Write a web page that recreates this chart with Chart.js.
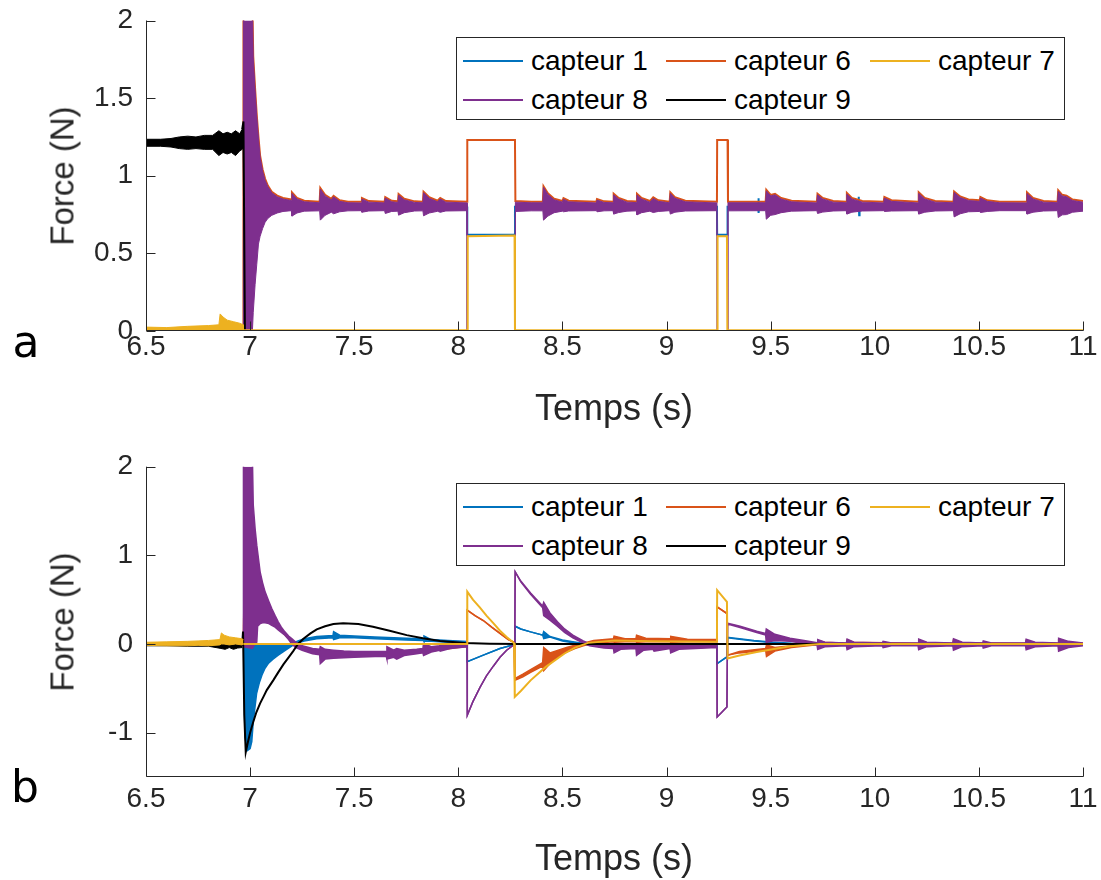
<!DOCTYPE html>
<html>
<head>
<meta charset="utf-8">
<script src="https://cdn.jsdelivr.net/npm/chart.js@4.4.1/dist/chart.umd.min.js"></script>
<style>
html,body{margin:0;padding:0;background:#fff;}
#wrap{position:relative;width:1101px;height:880px;overflow:hidden;background:#fff;font-family:"Liberation Sans",Arial,Helvetica,sans-serif;color:#262626;}
.pane{position:absolute;left:0;width:1101px;height:440px;}
.pane canvas{position:absolute;left:0;top:0;}
.t{position:absolute;white-space:nowrap;line-height:1;transform:translate(-50%,-50%);}
.leg{position:absolute;left:456px;width:609px;height:83px;border:1px solid #262626;background:#fff;box-sizing:border-box;z-index:5;}
.leg .s{position:absolute;height:2px;width:60px;}
.leg .n{position:absolute;font-size:28px;line-height:1;transform:translateY(-50%);color:#000;white-space:nowrap;}
</style>
</head>
<body>
<div id="wrap">
  <div class="pane" style="top:0"><canvas id="ca" width="1101" height="440"></canvas></div>
  <div class="pane" style="top:440px"><canvas id="cb" width="1101" height="440"></canvas></div>
  <div class="t" style="left:62px;top:176px;font-size:33px;transform:translate(-50%,-50%) rotate(-90deg);">Force (N)</div>
  <div class="t" style="left:62px;top:622px;font-size:33px;transform:translate(-50%,-50%) rotate(-90deg);">Force (N)</div>
  <div class="t" style="left:614px;top:408px;font-size:36px;">Temps (s)</div>
  <div class="t" style="left:614px;top:858px;font-size:36px;">Temps (s)</div>
  <div class="t" style="left:26px;top:342px;font-size:44px;font-family:'DejaVu Sans',sans-serif;color:#000;">a</div>
  <div class="t" style="left:25px;top:787px;font-size:44px;font-family:'DejaVu Sans',sans-serif;color:#000;">b</div>
  <div class="leg" id="legA" style="top:37px"></div>
  <div class="leg" id="legB" style="top:483px"></div>
</div>
<script>
// ---------- labels / ticks ----------
const xTicks = [6.5,7,7.5,8,8.5,9,9.5,10,10.5,11];
const yTicksA = [0,0.5,1,1.5,2];
const yTicksB = [-1,0,1,2];
const seriesNames = ['capteur 1','capteur 6','capteur 7','capteur 8','capteur 9'];
const seriesColors = ['#0072BD','#D95319','#EDB120','#7E2F8E','#000000'];

// ---------- panel a : rows [t, value] or [t, upper, lower] ----------
const c1A = [[6.5,1.225],[6.968,1.225],[6.972,0.8],[7.911,0.8],[7.912,0.855],[7.914,0.765],[7.916,0.8],[8.042,0.8],[8.043,0.62],[8.271,0.62],[8.272,0.8],[9.242,0.8],[9.243,0.62],[9.292,0.62],[9.293,0.8],[9.44,0.8],[9.441,0.855],[9.443,0.76],[9.445,0.8],[9.922,0.8],[9.923,0.865],[9.925,0.745],[9.927,0.8],[11,0.8]];
const c6A = [[6.5,0],[6.967,0],[6.968,2.1],[7.011,2.1],[7.015,1.77],[7.024,1.56],[7.032,1.39],[7.04,1.25],[7.048,1.13],[7.06,1.04],[7.072,0.98],[7.085,0.937],[7.104,0.897],[7.13,0.872],[7.158,0.857],[7.198,0.847],[7.201,0.893],[7.225,0.857],[7.26,0.839],[7.334,0.833],[7.337,0.921],[7.36,0.877],[7.39,0.852],[7.401,0.871],[7.43,0.842],[7.47,0.833],[7.534,0.832],[7.537,0.857],[7.57,0.837],[7.646,0.832],[7.649,0.863],[7.68,0.839],[7.71,0.835],[7.713,0.882],[7.74,0.852],[7.79,0.835],[7.83,0.833],[7.833,0.897],[7.86,0.862],[7.9,0.839],[7.913,0.857],[7.94,0.837],[8.042,0.832],[8.043,1.23],[8.272,1.23],[8.274,0.837],[8.35,0.833],[8.406,0.833],[8.409,0.932],[8.43,0.887],[8.46,0.852],[8.5,0.837],[8.505,0.856],[8.53,0.839],[8.663,0.832],[8.666,0.85],[8.7,0.835],[8.743,0.833],[8.746,0.884],[8.77,0.857],[8.81,0.837],[8.855,0.834],[8.858,0.884],[8.88,0.857],[8.92,0.837],[8.936,0.861],[8.96,0.842],[9.015,0.833],[9.018,0.893],[9.04,0.862],[9.09,0.839],[9.242,0.832],[9.243,1.23],[9.293,1.23],[9.295,0.833],[9.476,0.833],[9.479,0.91],[9.5,0.877],[9.521,0.884],[9.55,0.857],[9.6,0.839],[9.722,0.832],[9.725,0.884],[9.75,0.857],[9.8,0.837],[9.863,0.833],[9.866,0.889],[9.89,0.857],[9.94,0.837],[10.043,0.832],[10.046,0.863],[10.08,0.842],[10.208,0.832],[10.211,0.893],[10.24,0.857],[10.29,0.837],[10.378,0.833],[10.381,0.899],[10.41,0.867],[10.45,0.847],[10.504,0.842],[10.507,0.863],[10.54,0.842],[10.6,0.833],[10.728,0.832],[10.731,0.893],[10.76,0.857],[10.81,0.837],[10.878,0.833],[10.881,0.906],[10.9,0.877],[10.921,0.872],[10.95,0.847],[11,0.837]];
const c7bandA = [[6.5,0.025],[6.6,0.022],[6.7,0.03],[6.8,0.035],[6.85,0.04],[6.856,0.11],[6.87,0.09],[6.89,0.07],[6.92,0.06],[6.95,0.05],[6.967,0.04],[6.968,0]];
const c7A = [[6.5,0.005],[8.043,0.005],[8.045,0.61],[8.27,0.615],[8.272,0.005],[9.243,0.005],[9.245,0.61],[9.29,0.61],[9.292,0.005],[11,0.005]];
const c8A = [[6.5,0,0],[6.967,0,0],[6.968,2.1,0],[7.011,2.1,0],[7.015,1.76,0.12],[7.024,1.55,0.3],[7.032,1.38,0.43],[7.04,1.24,0.56],[7.048,1.12,0.61],[7.06,1.03,0.66],[7.072,0.97,0.70],[7.085,0.93,0.725],[7.104,0.89,0.745],[7.13,0.865,0.76],[7.158,0.85,0.77],[7.198,0.84,0.775],[7.201,0.886,0.74],[7.225,0.85,0.76],[7.26,0.832,0.772],[7.334,0.826,0.774],[7.337,0.914,0.714],[7.36,0.87,0.745],[7.39,0.845,0.765],[7.401,0.864,0.755],[7.43,0.835,0.768],[7.47,0.826,0.774],[7.534,0.825,0.775],[7.537,0.85,0.765],[7.57,0.83,0.773],[7.646,0.825,0.775],[7.649,0.856,0.757],[7.68,0.832,0.77],[7.71,0.828,0.772],[7.713,0.875,0.746],[7.74,0.845,0.762],[7.79,0.828,0.773],[7.83,0.826,0.774],[7.833,0.89,0.742],[7.86,0.855,0.76],[7.9,0.832,0.771],[7.913,0.85,0.765],[7.94,0.83,0.773],[8.042,0.825,0.775],[8.043,0,0],[8.272,0,0],[8.274,0.83,0.77],[8.35,0.826,0.774],[8.406,0.826,0.774],[8.409,0.925,0.714],[8.43,0.88,0.74],[8.46,0.845,0.762],[8.5,0.83,0.772],[8.505,0.849,0.768],[8.53,0.832,0.773],[8.663,0.825,0.775],[8.666,0.843,0.768],[8.7,0.828,0.774],[8.743,0.826,0.775],[8.746,0.877,0.753],[8.77,0.85,0.763],[8.81,0.83,0.772],[8.855,0.827,0.774],[8.858,0.877,0.748],[8.88,0.85,0.762],[8.92,0.83,0.772],[8.936,0.854,0.763],[8.96,0.835,0.77],[9.015,0.826,0.775],[9.018,0.886,0.753],[9.04,0.855,0.765],[9.09,0.832,0.773],[9.242,0.825,0.775],[9.243,0,0],[9.293,0,0],[9.295,0.826,0.774],[9.476,0.826,0.775],[9.479,0.903,0.72],[9.5,0.87,0.745],[9.521,0.877,0.75],[9.55,0.85,0.762],[9.6,0.832,0.772],[9.722,0.825,0.775],[9.725,0.877,0.757],[9.75,0.85,0.766],[9.8,0.83,0.773],[9.863,0.826,0.775],[9.866,0.882,0.753],[9.89,0.85,0.765],[9.94,0.83,0.773],[10.043,0.825,0.775],[10.046,0.856,0.77],[10.08,0.835,0.773],[10.208,0.825,0.775],[10.211,0.886,0.753],[10.24,0.85,0.765],[10.29,0.83,0.773],[10.378,0.826,0.775],[10.381,0.892,0.735],[10.41,0.86,0.755],[10.45,0.84,0.768],[10.504,0.835,0.77],[10.507,0.856,0.763],[10.54,0.835,0.77],[10.6,0.826,0.775],[10.728,0.825,0.775],[10.731,0.886,0.753],[10.76,0.85,0.765],[10.81,0.83,0.773],[10.878,0.826,0.775],[10.881,0.899,0.731],[10.9,0.87,0.748],[10.921,0.865,0.75],[10.95,0.84,0.765],[11,0.83,0.772]];
const c9bandA = [[6.5,1.235,1.19],[6.57,1.235,1.19],[6.62,1.24,1.185],[6.66,1.25,1.175],[6.7,1.255,1.17],[6.74,1.25,1.175],[6.78,1.26,1.17],[6.82,1.26,1.17],[6.85,1.29,1.13],[6.87,1.27,1.15],[6.89,1.28,1.14],[6.91,1.27,1.15],[6.93,1.29,1.13],[6.95,1.27,1.16],[6.962,1.3,1.17],[6.966,1.32,1.18]];
const c9A = [[6.962,1.3],[6.968,1.35],[6.975,0],[11,0]];

// ---------- panel b ----------
const c1B = [[6.5,0.0,-0.01],[6.969,0.0,-0.01],[6.975,0.02,-1.05],[6.988,0.02,-1.2],[7.0,0.01,-1.18],[7.008,0.01,-1.1],[7.015,0.0,-0.88],[7.025,0.0,-0.68],[7.031,0.0,-0.56],[7.045,0.0,-0.43],[7.057,0.0,-0.35],[7.07,0.0,-0.28],[7.087,0.0,-0.22],[7.11,0.0,-0.17],[7.135,0.0,-0.126],[7.16,0.0,-0.085],[7.183,0.0,-0.05],[7.205,0.01,-0.015],[7.23,0.035,0.015],[7.26,0.06,0.035],[7.32,0.085,0.06],[7.398,0.095,0.07],[7.401,0.14,0.05],[7.43,0.1,0.07],[7.5,0.09,0.07],[7.6,0.08,0.06],[7.75,0.065,0.045],[7.832,0.06,0.04],[7.835,0.09,0.03],[7.87,0.05,0.03],[7.95,0.04,0.02],[8.042,0.03,0.01],[8.043,-0.2,-0.2],[8.12,-0.125,-0.125],[8.2,-0.05,-0.05],[8.271,-0.005,-0.005],[8.273,0.2,0.2],[8.3,0.17,0.17],[8.347,0.137,0.137],[8.405,0.1,0.1],[8.41,0.14,0.06],[8.44,0.085,0.08],[8.5,0.045,0.035],[8.55,0.025,0.015],[8.62,0.0,-0.01],[8.7,-0.015,-0.025],[9.242,-0.015,-0.025],[9.243,-0.22,-0.22],[9.29,-0.146,-0.146],[9.293,0.075,0.07],[9.35,0.06,0.055],[9.42,0.04,0.035],[9.5,0.022,0.017],[9.6,0.008,0.0],[9.7,0.0,-0.005],[11,0.0,-0.005]];
const c6B = [[6.5,0,0],[6.968,0,0],[6.972,1.0,0.9],[7.02,0.9,0.8],[7.05,0.5,0.45],[7.1,0.3,0.27],[7.2,0.03,0.02],[7.3,-0.08,-0.1],[7.5,-0.11,-0.13],[7.8,-0.08,-0.1],[8.0,-0.03,-0.04],[8.042,-0.02,-0.03],[8.043,0.382,0.382],[8.08,0.32,0.32],[8.12,0.265,0.265],[8.16,0.19,0.19],[8.2,0.12,0.12],[8.24,0.05,0.05],[8.268,0.02,0.02],[8.271,-0.39,-0.41],[8.31,-0.34,-0.37],[8.347,-0.29,-0.32],[8.405,-0.21,-0.25],[8.41,-0.04,-0.3],[8.44,-0.1,-0.22],[8.48,-0.07,-0.14],[8.52,-0.04,-0.09],[8.56,-0.015,-0.05],[8.6,0.01,-0.02],[8.65,0.04,0.01],[8.745,0.06,0.025],[8.748,0.09,0.02],[8.8,0.06,0.025],[8.853,0.06,0.025],[8.856,0.1,0.02],[8.9,0.065,0.025],[9.017,0.06,0.025],[9.02,0.085,0.02],[9.1,0.055,0.025],[9.242,0.05,0.025],[9.243,0.419,0.419],[9.29,0.344,0.344],[9.293,-0.126,-0.126],[9.35,-0.085,-0.1],[9.476,-0.05,-0.07],[9.48,-0.01,-0.14],[9.52,-0.04,-0.08],[9.6,-0.02,-0.04],[9.7,0.0,-0.015],[9.723,0.005,-0.01],[9.726,0.04,0.0],[9.76,0.02,0.0],[9.864,0.008,0.0],[9.867,0.045,0.0],[9.9,0.02,0.0],[10.208,0.008,0.0],[10.211,0.04,0.0],[10.25,0.015,0.0],[10.375,0.008,0.0],[10.378,0.045,0.0],[10.42,0.015,0.0],[10.724,0.008,0.0],[10.727,0.04,0.0],[10.77,0.015,0.0],[10.88,0.008,0.0],[10.883,0.045,0.0],[10.93,0.015,0.0],[11,0.008,0.0]];
const c7bandB = [[6.5,0.02,-0.015],[6.6,0.025,-0.02],[6.7,0.03,-0.02],[6.75,0.035,-0.015],[6.8,0.04,-0.02],[6.855,0.05,-0.01],[6.862,0.125,0.0],[6.875,0.1,0.0],[6.9,0.08,-0.01],[6.93,0.07,0.0],[6.96,0.06,-0.01],[6.968,0.05,0.0]];
const c7B = [[6.968,0.0],[8.042,0.0],[8.043,0.59],[8.07,0.5],[8.104,0.41],[8.135,0.32],[8.168,0.235],[8.2,0.15],[8.232,0.08],[8.268,0.01],[8.271,-0.597],[8.3,-0.53],[8.347,-0.41],[8.42,-0.258],[8.51,-0.107],[8.56,-0.04],[8.623,0.013],[8.751,0.04],[8.935,0.03],[9.242,0.025],[9.243,0.607],[9.29,0.476],[9.293,-0.164],[9.35,-0.13],[9.433,-0.089],[9.593,-0.025],[9.737,0.0],[11,0.0]];
const c8B = [[6.5,0.005,-0.01],[6.967,0.005,-0.01],[6.968,2.1,-0.03],[7.011,2.1,-0.05],[7.015,1.57,-0.03],[7.024,1.3,0.0],[7.032,1.115,0.02],[7.036,1.04,0.2],[7.048,0.814,0.23],[7.06,0.69,0.24],[7.072,0.588,0.24],[7.09,0.48,0.23],[7.104,0.4,0.21],[7.12,0.32,0.19],[7.135,0.25,0.16],[7.15,0.19,0.13],[7.167,0.137,0.1],[7.185,0.09,0.05],[7.2,0.06,0.0],[7.22,0.02,-0.04],[7.25,-0.02,-0.07],[7.3,-0.05,-0.11],[7.334,-0.06,-0.12],[7.337,-0.03,-0.22],[7.36,-0.06,-0.17],[7.4,-0.07,-0.16],[7.45,-0.08,-0.155],[7.5,-0.085,-0.15],[7.6,-0.085,-0.14],[7.654,-0.085,-0.14],[7.657,-0.03,-0.17],[7.69,-0.07,-0.15],[7.704,-0.05,-0.17],[7.74,-0.07,-0.13],[7.8,-0.06,-0.11],[7.83,-0.05,-0.1],[7.833,0.005,-0.13],[7.87,-0.03,-0.09],[7.91,-0.02,-0.07],[7.913,0.0,-0.08],[7.96,-0.01,-0.05],[8.042,-0.005,-0.03],[8.043,-0.804,-0.804],[8.07,-0.65,-0.65],[8.104,-0.49,-0.49],[8.135,-0.36,-0.36],[8.168,-0.25,-0.25],[8.2,-0.15,-0.15],[8.232,-0.07,-0.07],[8.271,0.0,0.0],[8.273,0.814,0.814],[8.3,0.71,0.7],[8.347,0.575,0.56],[8.405,0.43,0.41],[8.41,0.47,0.32],[8.44,0.35,0.27],[8.476,0.25,0.2],[8.51,0.17,0.13],[8.55,0.1,0.07],[8.6,0.035,0.01],[8.63,0.005,-0.02],[8.7,-0.01,-0.045],[8.745,-0.01,-0.05],[8.748,0.0,-0.1],[8.78,-0.01,-0.06],[8.853,-0.01,-0.05],[8.856,0.005,-0.127],[8.89,-0.01,-0.07],[8.936,-0.01,-0.06],[8.94,0.0,-0.08],[9.017,-0.01,-0.05],[9.02,0.0,-0.1],[9.06,-0.01,-0.06],[9.242,-0.005,-0.04],[9.243,-0.823,-0.823],[9.29,-0.71,-0.71],[9.293,0.235,0.225],[9.353,0.2,0.185],[9.433,0.145,0.13],[9.476,0.12,0.1],[9.479,0.17,0.02],[9.52,0.11,0.04],[9.593,0.065,0.03],[9.66,0.04,0.005],[9.723,0.015,-0.015],[9.726,0.05,-0.06],[9.76,0.02,-0.03],[9.864,0.012,-0.02],[9.867,0.055,-0.065],[9.9,0.02,-0.03],[10.036,0.012,-0.02],[10.04,0.03,-0.04],[10.08,0.012,-0.02],[10.208,0.012,-0.02],[10.211,0.055,-0.065],[10.25,0.02,-0.03],[10.375,0.012,-0.02],[10.378,0.06,-0.07],[10.42,0.02,-0.03],[10.518,0.012,-0.02],[10.521,0.035,-0.045],[10.56,0.012,-0.02],[10.724,0.012,-0.02],[10.727,0.055,-0.065],[10.77,0.02,-0.03],[10.88,0.012,-0.02],[10.883,0.065,-0.08],[10.93,0.03,-0.04],[11,0.01,-0.02]];
const c9bandB = [[6.5,0.0,-0.02],[6.6,0.0,-0.02],[6.7,0.0,-0.025],[6.8,-0.005,-0.025],[6.86,0.0,-0.05],[6.88,-0.01,-0.06],[6.9,0.0,-0.04],[6.92,-0.01,-0.06],[6.94,0.0,-0.045],[6.962,0.0,-0.04]];
const c9B = [[6.962,0.0],[6.966,0.14],[6.972,-0.8],[6.979,-1.22],[6.99,-1.1],[7.0,-1.0],[7.015,-0.88],[7.03,-0.77],[7.048,-0.67],[7.065,-0.59],[7.08,-0.52],[7.111,-0.41],[7.135,-0.32],[7.16,-0.23],[7.185,-0.15],[7.207,-0.08],[7.23,0.0],[7.256,0.06],[7.29,0.12],[7.32,0.165],[7.36,0.2],[7.4,0.225],[7.447,0.235],[7.52,0.225],[7.59,0.195],[7.67,0.15],[7.752,0.1],[7.83,0.065],[7.912,0.035],[8.032,0.012],[8.15,0.004],[8.3,0.0],[11,0.0]];

// ---------- helpers ----------
const FONT = '"Liberation Sans", Arial, Helvetica, sans-serif';
const C = seriesColors;
function line(rows, k, color, order, width, fill) {
  return {
    data: rows.map(r => ({x: r[0], y: r[k]})),
    borderColor: color, backgroundColor: color, borderWidth: width,
    pointRadius: 0, pointHoverRadius: 0, tension: 0,
    fill: fill === undefined ? false : fill, order: order
  };
}
const axesPlugin = {
  id: 'matlabAxes',
  afterDraw(chart) {
    const {ctx, chartArea: a, scales: {x, y}} = chart;
    ctx.save();
    ctx.strokeStyle = '#262626'; ctx.lineWidth = 1;
    const L = Math.round(a.left) + 0.5, B = Math.round(a.bottom) - 0.5;
    ctx.beginPath();
    ctx.moveTo(L, a.top); ctx.lineTo(L, B); ctx.lineTo(a.right + 0.5, B);
    x.ticks.forEach(t => { const p = Math.round(x.getPixelForValue(t.value)) + 0.5; ctx.moveTo(p, B); ctx.lineTo(p, B - 9); });
    y.ticks.forEach(t => { const p = Math.round(y.getPixelForValue(t.value)) + 0.5; ctx.moveTo(L, p); ctx.lineTo(L + 9, p); });
    ctx.stroke(); ctx.restore();
  }
};
function makeChart(id, datasets, yMin, yMax, yTicks, padTop, xH, xPad) {
  return new Chart(document.getElementById(id), {
    type: 'line',
    data: {datasets},
    options: {
      responsive: false, animation: false, devicePixelRatio: 1, events: [],
      layout: {padding: {left: 0, right: 18, top: padTop, bottom: 0}},
      plugins: {legend: {display: false}, tooltip: {enabled: false}},
      scales: {
        x: {type: 'linear', min: 6.5, max: 11,
            grid: {display: false, drawTicks: false}, border: {display: false},
            afterBuildTicks: s => { s.ticks = xTicks.map(v => ({value: v})); },
            afterFit: s => { s.height = xH; s.paddingLeft = 0; s.paddingRight = 0; s.paddingTop = 0; s.paddingBottom = 0; },
            ticks: {padding: xPad, autoSkip: false, maxRotation: 0, minRotation: 0, color: '#262626',
                    font: {family: FONT, size: 28}, callback: v => String(v)}},
        y: {type: 'linear', min: yMin, max: yMax,
            grid: {display: false, drawTicks: false}, border: {display: false},
            afterBuildTicks: s => { s.ticks = yTicks.map(v => ({value: v})); },
            afterFit: s => { s.width = 146; s.paddingTop = 0; s.paddingBottom = 0; s.paddingLeft = 0; s.paddingRight = 0; },
            ticks: {padding: 13, autoSkip: false, color: '#262626',
                    font: {family: FONT, size: 28}, callback: v => String(v)}}
      }
    },
    plugins: [axesPlugin]
  });
}

// ---------- panel a ----------
const dsA = [
  line(c7bandA, 1, C[2], 1, 1, 'origin'), //0
  line(c7A, 1, C[2], 1, 2),               //1
  line(c9bandA, 1, C[4], 2, 1, 3),        //2
  line(c9bandA, 2, C[4], 2, 1),           //3
  line(c9A, 1, C[4], 2, 2),               //4
  line(c8A, 1, C[3], 3, 1, 6),            //5
  line(c8A, 2, C[3], 3, 1),               //6
  line(c6A, 1, C[1], 4, 2),               //7
  line(c1A, 1, C[0], 5, 2)                //8
];
makeChart('ca', dsA, 0, 2, yTicksA, 20.5, 109, -1);

// ---------- panel b ----------
const dsB = [
  line(c7bandB, 1, C[2], 1, 1, 1),   //0
  line(c7bandB, 2, C[2], 1, 1),      //1
  line(c7B, 1, C[2], 1, 2),          //2
  line(c9bandB, 1, C[4], 2, 1, 4),   //3
  line(c9bandB, 2, C[4], 2, 1),      //4
  line(c9B, 1, C[4], 2, 2),          //5
  line(c8B, 1, C[3], 3, 1.5, 7),     //6
  line(c8B, 2, C[3], 3, 1.5),        //7
  line(c6B, 1, C[1], 4, 1.5, 9),     //8
  line(c6B, 2, C[1], 4, 1.5),        //9
  line(c1B, 1, C[0], 5, 1.5, 11),    //10
  line(c1B, 2, C[0], 5, 1.5)         //11
];
makeChart('cb', dsB, -1.5, 2, yTicksB, 26.7, 103, 5);

// ---------- legends ----------
const legCols = [6, 209, 413];
const legRows = [23, 62];
function buildLegend(id) {
  const box = document.getElementById(id);
  seriesNames.forEach((name, i) => {
    const col = legCols[i % 3], row = legRows[Math.floor(i / 3)];
    const s = document.createElement('div');
    s.className = 's'; s.style.left = col + 'px'; s.style.top = (row - 1) + 'px'; s.style.background = seriesColors[i];
    const n = document.createElement('div');
    n.className = 'n'; n.style.left = (col + 68) + 'px'; n.style.top = row + 'px'; n.textContent = name;
    box.appendChild(s); box.appendChild(n);
  });
}
buildLegend('legA'); buildLegend('legB');
</script>
</body>
</html>
